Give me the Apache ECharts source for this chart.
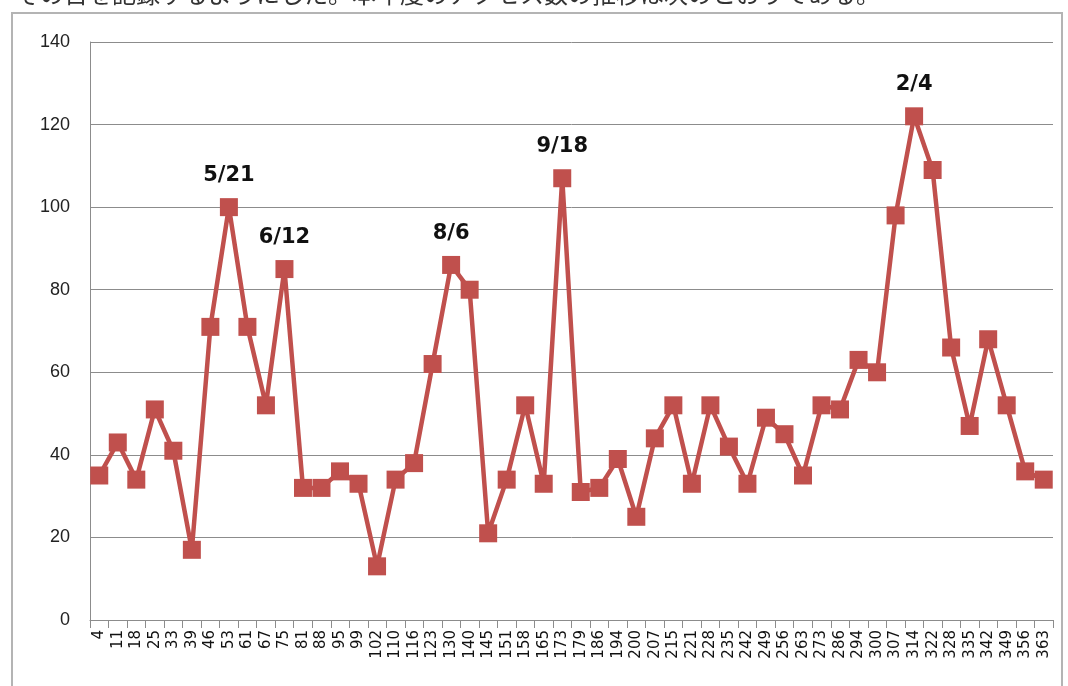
<!DOCTYPE html>
<html>
<head>
<meta charset="utf-8">
<script src="https://cdn.jsdelivr.net/npm/echarts@6/dist/echarts.min.js"></script>
<style>
html,body{margin:0;padding:0;background:#fff;}
#chart{width:1068px;height:686px;}
</style>
</head>
<body>
<div id="chart"></div>
<script>
const headerText = 'その日を記録するようにした。本年度のアクセス数の推移は次のとおりである。';
const categories = ['4','11','18','25','33','39','46','53','61','67','75','81','88','95','99','102','110','116','123','130','140','145','151','158','165','173','179','186','194','200','207','215','221','228','235','242','249','256','263','273','286','294','300','307','314','322','328','335','342','349','356','363'];
const values = [35,43,34,51,41,17,71,100,71,52,85,32,32,36,33,13,34,38,62,86,80,21,34,52,33,107,31,32,39,25,44,52,33,52,42,33,49,45,35,52,51,63,60,98,122,109,66,47,68,52,36,34];
const peakCategories = ['53','75','130','173','314'];
const peakTexts = ['5/21','6/12','8/6','9/18','2/4'];
const yTicks = [0,20,40,60,80,100,120,140];

const seriesData = values.map((v, i) => {
  const k = peakCategories.indexOf(categories[i]);
  if (k >= 0) {
    return {value: v, label: {show: true, formatter: peakTexts[k]}};
  }
  return v;
});

const chart = echarts.init(document.getElementById('chart'), null, {renderer: 'canvas'});
chart.setOption({
  animation: false,
  backgroundColor: '#ffffff',
  graphic: [
    {type: 'rect', shape: {x: 12, y: 13, width: 1050, height: 700}, style: {fill: 'none', stroke: '#b4b4b4', lineWidth: 2}, z: -1},
    {type: 'text', left: 16, top: -18, style: {text: headerText, font: '24px "Noto Sans CJK JP"', fill: '#333333'}}
  ],
  grid: {left: 90, right: 15, top: 42, bottom: 66, containLabel: false},
  xAxis: {
    type: 'category',
    data: categories,
    boundaryGap: true,
    axisLine: {show: true, lineStyle: {color: '#8c8c8c', width: 1}},
    axisTick: {show: true, length: 8, alignWithLabel: false, interval: 0, lineStyle: {color: '#8c8c8c'}},
    axisLabel: {interval: 0, rotate: 90, fontSize: 15, margin: 10, color: '#111111', fontFamily: 'DejaVu Sans'},
    splitLine: {show: false}
  },
  yAxis: {
    type: 'value',
    min: 0, max: 140, interval: 20,
    axisLine: {show: true, lineStyle: {color: '#8c8c8c', width: 1}},
    axisTick: {show: false},
    axisLabel: {fontSize: 18, color: '#222222', margin: 20, fontFamily: 'Liberation Sans',
      formatter: v => yTicks.indexOf(v) >= 0 ? String(v) : ''},
    splitLine: {show: true, lineStyle: {color: '#8c8c8c', width: 1}}
  },
  series: [{
    type: 'line',
    data: seriesData,
    symbol: 'rect',
    symbolSize: 18,
    showAllSymbol: true,
    lineStyle: {color: '#c0504d', width: 4.5},
    itemStyle: {color: '#c0504d'},
    label: {show: false, position: 'top', distance: 12, color: '#111111', fontSize: 21, fontWeight: 'bold', fontFamily: 'DejaVu Sans'}
  }]
});
</script>
</body>
</html>
